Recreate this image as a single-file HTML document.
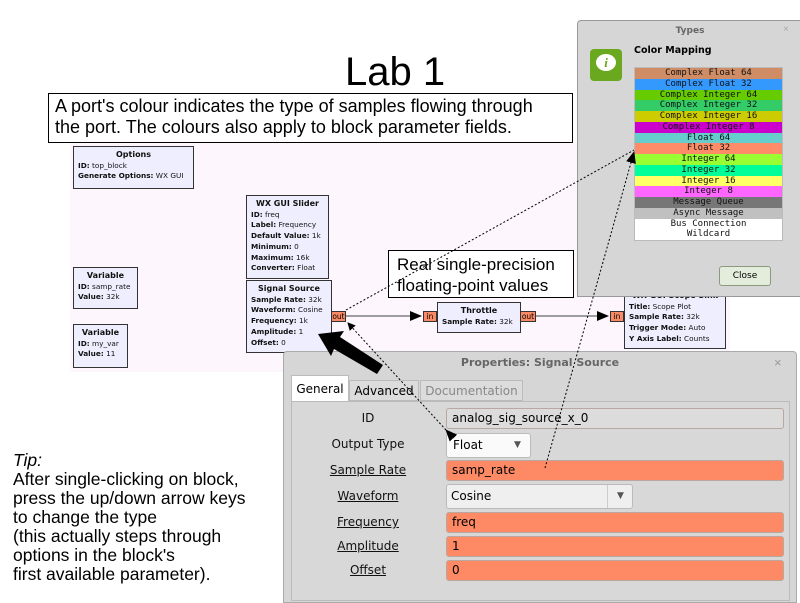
<!DOCTYPE html>
<html><head><meta charset="utf-8"><style>
*{margin:0;padding:0;box-sizing:border-box}
body{width:800px;height:600px;position:relative;background:#fff;font-family:"Liberation Sans",sans-serif;overflow:hidden}
.a{position:absolute}
.blk{position:absolute;background:#eeeefe;border:1px solid #333;font-family:"DejaVu Sans",sans-serif;font-size:7.3px;line-height:10.7px;padding:3px 4px;color:#111;white-space:nowrap;overflow:hidden}
.blk .t{text-align:center;font-weight:bold;font-size:8px}
.blk b{font-weight:bold}
.port{position:absolute;background:#f98a65;border:1px solid #333;font-family:"DejaVu Sans",sans-serif;font-size:7.5px;line-height:9px;text-align:center;height:11px}
.tbl div{height:10.75px;line-height:10.75px;font-family:"DejaVu Sans Mono",monospace;font-size:9px;text-align:center;color:#111}
.lbl{position:absolute;left:292px;width:152px;text-align:center;font-family:"DejaVu Sans",sans-serif;font-size:12px;color:#111}
.lbl u{text-decoration:underline}
.fld{position:absolute;left:446px;width:338px;height:21px;border:1px solid #b8a8a0;border-radius:3px;font-family:"DejaVu Sans",sans-serif;font-size:12px;line-height:19px;padding-left:5px;background:#fe8a65}
</style></head><body>
<div class="a" style="left:70px;top:142px;width:660px;height:230px;background:#fdf6fd"></div>
<div class="a" style="left:345px;top:50px;font-size:40px;line-height:44px">Lab 1</div>
<div class="a" style="left:48px;top:93px;width:525px;height:50px;border:1px solid #000;background:#fff;font-size:18px;line-height:21px;padding:2px 0 0 6px;white-space:nowrap">A port's colour indicates the type of samples flowing through<br>the port. The colours also apply to block parameter fields.</div>

<div class="blk" style="left:73px;top:146px;width:121px;height:43px"><div class="t">Options</div><b>ID:</b> top_block<br><b>Generate Options:</b> WX GUI</div>
<div class="blk" style="left:246px;top:195px;width:83px;height:84px"><div class="t">WX GUI Slider</div><b>ID:</b> freq<br><b>Label:</b> Frequency<br><b>Default Value:</b> 1k<br><b>Minimum:</b> 0<br><b>Maximum:</b> 16k<br><b>Converter:</b> Float</div>
<div class="blk" style="left:246px;top:280px;width:86px;height:73px"><div class="t">Signal Source</div><b>Sample Rate:</b> 32k<br><b>Waveform:</b> Cosine<br><b>Frequency:</b> 1k<br><b>Amplitude:</b> 1<br><b>Offset:</b> 0</div>
<div class="blk" style="left:73px;top:267px;width:65px;height:42px"><div class="t">Variable</div><b>ID:</b> samp_rate<br><b>Value:</b> 32k</div>
<div class="blk" style="left:73px;top:324px;width:55px;height:44px"><div class="t">Variable</div><b>ID:</b> my_var<br><b>Value:</b> 11</div>
<div class="blk" style="left:437px;top:302px;width:84px;height:31px"><div class="t">Throttle</div><b>Sample Rate:</b> 32k</div>
<div class="blk" style="left:624px;top:287px;width:102px;height:62px"><div class="t">WX GUI Scope Sink</div><b>Title:</b> Scope Plot<br><b>Sample Rate:</b> 32k<br><b>Trigger Mode:</b> Auto<br><b>Y Axis Label:</b> Counts</div>
<div class="port" style="left:331px;top:311px;width:15px">out</div>
<div class="port" style="left:423px;top:311px;width:14px">in</div>
<div class="port" style="left:520px;top:311px;width:16px">out</div>
<div class="port" style="left:610px;top:311px;width:14px">in</div>

<div class="a" style="left:388px;top:250px;width:186px;height:48px;border:1px solid #000;background:#fff;font-size:17px;line-height:21px;padding:3px 0 0 8px">Real single-precision floating-point values</div>

<!-- Types dialog -->
<div class="a" style="left:577px;top:20px;width:226px;height:277px;background:#d6d6d6;border:1px solid #999;border-radius:4px 4px 0 0">
 <div class="a" style="left:0;top:0;width:224px;height:20px;text-align:center;font-family:'DejaVu Sans',sans-serif;font-size:9px;font-weight:bold;color:#666;line-height:20px">Types</div>
 <div class="a" style="left:205px;top:3px;font-size:10px;color:#aaa">×</div>
 <div class="a" style="left:12px;top:28px;width:32px;height:32px;background:#6aa820;border-radius:4px"><div class="a" style="left:6px;top:5px;width:20px;height:17px;background:#fff;border-radius:50%;text-align:center;color:#6aa820;font-weight:bold;font-style:italic;font-size:13px;line-height:17px;font-family:'Liberation Serif',serif">i</div></div>
 <div class="a" style="left:56px;top:24px;font-family:'DejaVu Sans',sans-serif;font-size:9.5px;font-weight:bold">Color Mapping</div>
 <div class="a tbl" style="left:56px;top:46px;width:149px;border:1px solid #bbb">
  <div style="background:#d08d65">Complex Float 64</div>
  <div style="background:#3399ff">Complex Float 32</div>
  <div style="background:#66cc00">Complex Integer 64</div>
  <div style="background:#33cc66">Complex Integer 32</div>
  <div style="background:#cccc00">Complex Integer 16</div>
  <div style="background:#cc00cc">Complex Integer 8</div>
  <div style="background:#66cccc">Float 64</div>
  <div style="background:#ff8c69">Float 32</div>
  <div style="background:#99ff33">Integer 64</div>
  <div style="background:#00ff99">Integer 32</div>
  <div style="background:#ffff66">Integer 16</div>
  <div style="background:#ff66ff">Integer 8</div>
  <div style="background:#777">Message Queue</div>
  <div style="background:#c0c0c0">Async Message</div>
  <div style="background:#fff">Bus Connection</div>
  <div style="background:#fff">Wildcard</div>
 </div>
 <div class="a" style="left:141px;top:245px;width:52px;height:20px;border:1px solid #8a9a80;border-radius:3px;background:#e4ecdc;font-family:'DejaVu Sans',sans-serif;font-size:9px;text-align:center;line-height:18px">Close</div>
</div>

<!-- Properties dialog -->
<div class="a" style="left:283px;top:351px;width:514px;height:252px;background:#d6d6d6;border:1px solid #aaa;border-radius:4px 4px 0 0">
 <div class="a" style="left:0;top:4px;width:512px;text-align:center;font-family:'DejaVu Sans',sans-serif;font-size:11px;font-weight:bold;color:#666">Properties: Signal Source</div>
 <div class="a" style="left:490px;top:3px;font-size:13px;color:#999">×</div>
</div>
<div class="a" style="left:291px;top:375px;width:58px;height:27px;background:#fff;border:1px solid #bbb;border-bottom:none;font-family:'DejaVu Sans',sans-serif;font-size:12px;text-align:center;line-height:26px">General</div>
<div class="a" style="left:349px;top:380px;width:70px;height:21px;background:#dcdcdc;border:1px solid #bbb;font-family:'DejaVu Sans',sans-serif;font-size:12px;text-align:center;line-height:20px">Advanced</div>
<div class="a" style="left:420px;top:380px;width:103px;height:21px;background:#dcdcdc;border:1px solid #bbb;font-family:'DejaVu Sans',sans-serif;font-size:12px;text-align:center;line-height:20px;color:#888">Documentation</div>
<div class="a" style="left:291px;top:401px;width:499px;height:200px;background:#d8d8d8;border:1px solid #bbb"></div>

<div class="lbl" style="top:411px">ID</div>
<div class="fld" style="top:408px;background:#dcdcdc">analog_sig_source_x_0</div>
<div class="lbl" style="top:437px">Output Type</div>
<div class="a" style="left:446px;top:433px;width:85px;height:25px;background:#fafafa;border:1px solid #bbb;border-radius:3px;font-family:'DejaVu Sans',sans-serif;font-size:12px;line-height:23px;padding-left:6px">Float<span style="position:absolute;left:67px;font-size:9px;color:#555">▼</span></div>
<div class="lbl" style="top:463px"><u>Sample Rate</u></div>
<div class="fld" style="top:460px">samp_rate</div>
<div class="lbl" style="top:489px"><u>Waveform</u></div>
<div class="a" style="left:446px;top:484px;width:187px;height:25px;background:#efefef;border:1px solid #bbb;border-radius:3px;font-family:'DejaVu Sans',sans-serif;font-size:12px;line-height:23px;padding-left:4px">Cosine<span style="position:absolute;left:160px;top:0;height:23px;border-left:1px solid #ccc;padding-left:9px;font-size:9px;color:#555">▼</span></div>
<div class="lbl" style="top:515px"><u>Frequency</u></div>
<div class="fld" style="top:512px">freq</div>
<div class="lbl" style="top:539px"><u>Amplitude</u></div>
<div class="fld" style="top:536px">1</div>
<div class="lbl" style="top:563px"><u>Offset</u></div>
<div class="fld" style="top:560px">0</div>

<div class="a" style="left:13px;top:451px;font-size:17.5px;line-height:19px;white-space:nowrap"><i>Tip:</i><br>After single-clicking on block,<br>press the up/down arrow keys<br>to change the type<br>(this actually steps through<br>options in the block's<br>first available parameter).</div>

<svg class="a" style="left:0;top:0" width="800" height="600">
<defs><marker id="ah" markerWidth="8" markerHeight="8" refX="7" refY="4" orient="auto" markerUnits="userSpaceOnUse"><path d="M0,0 L8,4 L0,8z" fill="#000"/></marker>
<marker id="ah2" markerWidth="12" markerHeight="10" refX="11" refY="5" orient="auto" markerUnits="userSpaceOnUse"><path d="M0,0 L12,5 L0,10z" fill="#000"/></marker></defs>
<line x1="346" y1="316" x2="421" y2="316" stroke="#444" marker-end="url(#ah2)"/>
<line x1="536" y1="316" x2="608" y2="316" stroke="#444" marker-end="url(#ah2)"/>
<line x1="346" y1="310" x2="634" y2="150" stroke="#000" stroke-dasharray="2,2"/>
<line x1="545" y1="468" x2="634" y2="152" stroke="#000" stroke-dasharray="2,2" marker-end="url(#ah2)"/>
<line x1="446" y1="430" x2="348" y2="323" stroke="#000" stroke-dasharray="2,2" marker-end="url(#ah)" marker-start="url(#ah2)"/>
<path d="M383,365 L340,337 L344,331 L318,334 L331,356 L334,349 L377,374z" fill="#000"/>
</svg>
</body></html>
